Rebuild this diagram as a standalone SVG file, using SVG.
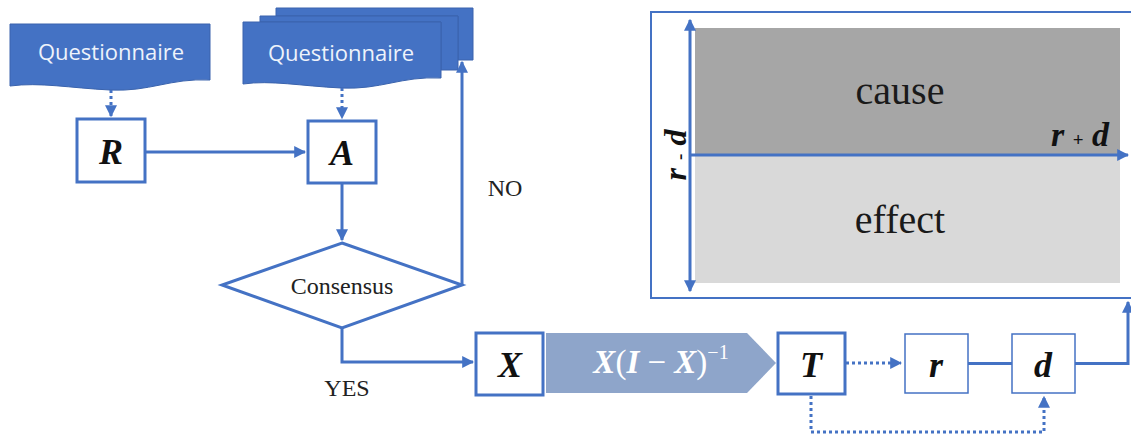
<svg xmlns="http://www.w3.org/2000/svg" width="1131" height="435" viewBox="0 0 1131 435">
<defs>
<marker id="ah" viewBox="0 0 10 10" refX="9" refY="5" markerWidth="4" markerHeight="4" orient="auto-start-reverse" markerUnits="strokeWidth">
<path d="M0,0 L10,5 L0,10 z" fill="#4472C4"/>
</marker>
<style>
.doc{fill:#4472C4;stroke:#3A63AD;stroke-width:1}
.qt{font-family:"Open Sans","Liberation Sans",sans-serif;font-size:22px;fill:#EEF3FB;text-anchor:middle}
.box{fill:#fff;stroke:#4472C4;stroke-width:3}
.thin{fill:#fff;stroke:#4472C4;stroke-width:1.5}
.var{font-family:"Liberation Serif",serif;font-style:italic;font-weight:bold;font-size:36px;fill:#111;text-anchor:middle}
.lbl{font-family:"Liberation Serif",serif;font-size:24px;fill:#222;text-anchor:middle}
.big{font-family:"Liberation Serif",serif;font-size:40px;fill:#1a1a1a;text-anchor:middle}
.ln{fill:none;stroke:#4472C4;stroke-width:3}
.dot{fill:none;stroke:#4472C4;stroke-width:3;stroke-dasharray:3 3}
</style>
</defs>

<g id="plot">
<rect x="651" y="12" width="485" height="286" fill="#fff" stroke="#4472C4" stroke-width="2"/>
<rect x="695" y="28" width="425" height="127" fill="#A6A6A6"/>
<rect x="695" y="155" width="425" height="128" fill="#D9D9D9"/>
<text class="big" x="900" y="104">cause</text>
<text class="big" x="900" y="233">effect</text>
<text x="1080" y="146" font-family="Liberation Serif,serif" font-style="italic" font-weight="bold" font-size="34" fill="#111" text-anchor="middle">r <tspan font-size="19" font-style="normal">+</tspan> d</text>
<text transform="translate(686,155) rotate(-90)" font-family="Liberation Serif,serif" font-style="italic" font-weight="bold" font-size="32" fill="#111" text-anchor="middle">r <tspan font-size="19" font-style="normal">-</tspan> d</text>
</g>

<g id="q1">
<path class="doc" d="M10,24 H210 V80 C170,78 150,92 110,90 C70,88 40,82 10,86 Z"/>
<text class="qt" x="111" y="60">Questionnaire</text>
</g>

<g id="q2">
<path class="doc" d="M276,8 H473 V60 H458 V16 H276 Z"/>
<path class="doc" d="M260,16 H458 V70 H441 V22 H260 Z"/>
<path class="doc" d="M243,22 H441 V78 C401,76 381,90 341,88 C301,86 271,80 243,84 Z"/>
<text class="qt" x="341" y="61">Questionnaire</text>
</g>

<g id="R"><rect class="box" x="77" y="119" width="68" height="63"/><text class="var" x="111" y="164">R</text></g>
<g id="A"><rect class="box" x="308" y="121" width="68" height="62"/><text class="var" x="342" y="165">A</text></g>
<g id="consensus"><polygon points="342,243 462,285 342,328 222,285" fill="#fff" stroke="#4472C4" stroke-width="3"/><text class="lbl" x="342" y="294">Consensus</text></g>
<g id="X"><rect class="box" x="476" y="333" width="67" height="62"/><text class="var" x="510" y="377">X</text></g>
<g id="formula"><polygon points="546,333 747,333 776,363 747,393 546,393" fill="#8EA5CA"/>
<text x="661" y="373" font-family="Liberation Serif,serif" font-size="33" fill="#fff" text-anchor="middle"><tspan font-style="italic" font-weight="bold">X</tspan>(<tspan font-style="italic" font-weight="bold">I</tspan> − <tspan font-style="italic" font-weight="bold">X</tspan>)<tspan font-size="20" dy="-14">−1</tspan></text></g>
<g id="T"><rect class="box" x="778" y="333" width="67" height="61" stroke-width="3.5"/><text class="var" x="811" y="377">T</text></g>
<g id="r"><rect class="thin" x="905" y="334" width="63" height="59"/><text class="var" x="936" y="377">r</text></g>
<g id="d"><rect class="thin" x="1012" y="334" width="63" height="59"/><text class="var" x="1043" y="377">d</text></g>

<g id="connectors">
<path class="dot" d="M111,90 V116" marker-end="url(#ah)"/>
<path class="dot" d="M342,88 V118" marker-end="url(#ah)"/>
<path class="ln" d="M145,152 H305" marker-end="url(#ah)"/>
<path class="ln" d="M342,183 V240" marker-end="url(#ah)"/>
<path class="ln" d="M462,285 V62" marker-end="url(#ah)"/>
<path class="ln" d="M342,328 V362 H473" marker-end="url(#ah)"/>
<path class="dot" d="M846,363 H901" marker-end="url(#ah)"/>
<path class="ln" d="M968,363.5 H1012" stroke-width="2.5"/>
<path class="ln" d="M1075,363.5 H1128 V302" stroke-width="2.5" marker-end="url(#ah)"/>
<path class="dot" d="M811,396 V432 H1044 V397" marker-end="url(#ah)"/>
<path class="ln" d="M690,20 V291" stroke-width="3" marker-start="url(#ah)" marker-end="url(#ah)"/>
<path class="ln" d="M690,155 H1128" marker-end="url(#ah)"/>
<text class="lbl" x="505" y="196">NO</text>
<text class="lbl" x="347" y="396">YES</text>
</g>
</svg>
